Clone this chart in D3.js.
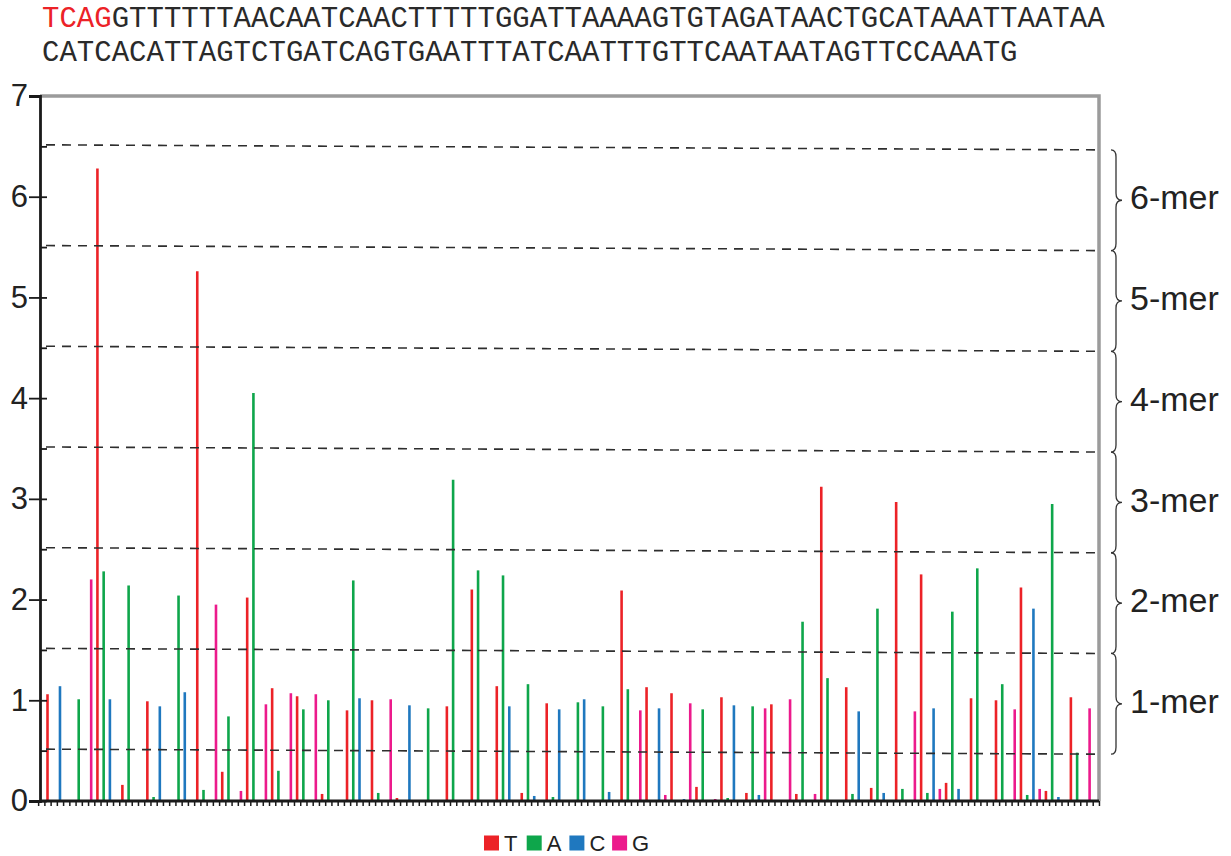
<!DOCTYPE html>
<html>
<head>
<meta charset="utf-8">
<script src="https://cdn.jsdelivr.net/npm/d3@7"></script>
<style>
  html, body { margin: 0; padding: 0; background: #fff; }
  svg { display: block; }
</style>
</head>
<body>
<svg id="canvas"></svg>
<script>
// flowgram: one value per nucleotide flow, flows cycle T A C G
const flowOrder = ['T', 'A', 'C', 'G'];
const flowValues = [
  1.06, 0, 1.14, 0, 0, 1.01, 0, 2.20, 6.28, 2.28,
  1.01, 0, 0.16, 2.14, 0, 0, 0.99, 0.04, 0.94, 0,
  0, 2.04, 1.08, 0, 5.26, 0.11, 0, 1.95, 0.29, 0.84,
  0, 0.10, 2.02, 4.05, 0, 0.96, 1.12, 0.30, 0, 1.07,
  1.04, 0.91, 0, 1.06, 0.07, 1.00, 0, 0, 0.90, 2.19,
  1.02, 0, 1.00, 0.08, 0.01, 1.01, 0.03, 0, 0.95, 0.01,
  0, 0.92, 0, 0, 0.94, 3.19, 0, 0, 2.10, 2.29,
  0, 0, 1.14, 2.24, 0.94, 0, 0.08, 1.16, 0.05, 0,
  0.97, 0.04, 0.91, 0, 0, 0.98, 1.01, 0, 0, 0.94,
  0.09, 0, 2.09, 1.11, 0, 0.90, 1.13, 0.01, 0.92, 0.06,
  1.07, 0, 0.02, 0.97, 0.14, 0.91, 0, 0.02, 1.03, 0.03,
  0.95, 0, 0.08, 0.94, 0.06, 0.92, 0.96, 0.01, 0, 1.01,
  0.07, 1.78, 0, 0.07, 3.12, 1.22, 0, 0, 1.13, 0.07,
  0.89, 0, 0.13, 1.91, 0.08, 0, 2.97, 0.12, 0, 0.89,
  2.25, 0.08, 0.92, 0.12, 0.18, 1.88, 0.12, 0, 1.02, 2.31,
  0, 0, 1.00, 1.16, 0, 0.91, 2.12, 0.06, 1.91, 0.12,
  0.10, 2.95, 0.04, 0, 1.03, 0.48, 0, 0.92
];
const baseColors = { T: '#ec2227', A: '#0ea64b', C: '#1f78bf', G: '#ec1a8c' };
const legendBases = ['T', 'A', 'C', 'G'];

const yTicks = [0, 1, 2, 3, 4, 5, 6, 7];
const halfTicks = [0.5, 1.5, 2.5, 3.5, 4.5, 5.5, 6.5];
const merLabels = ['6-mer', '5-mer', '4-mer', '3-mer', '2-mer', '1-mer'];

const keySeq = 'TCAG';
const readLine1 = 'GTTTTTTAACAATCAACTTTTTGGATTAAAAGTGTAGATAACTGCATAAATTAATAA';
const readLine2 = 'CATCACATTAGTCTGATCAGTGAATTTATCAATTTGTTCAATAATAGTTCCAAATG';

const width = 1231;
const height = 856;
const plotLeft = 40, plotRight = 1099, plotTop = 96, plotBottom = 801;

let canvas = d3.select('#canvas').attr('width', width).attr('height', height);

const xScale = d3.scaleLinear().domain([0, flowValues.length - 1]).range([47.5, 1089.6]);
const yScale = d3.scaleLinear().domain([0, 7]).range([plotBottom, plotTop]);

const sans = 'Liberation Sans, Arial, Helvetica, sans-serif';

// sequence text
const charW = 17.42;
const seq1 = canvas.append('text')
  .attr('x', 42).attr('y', 27)
  .attr('font-family', 'Liberation Mono, Courier New, monospace')
  .attr('font-size', 29)
  .attr('fill', '#2a2a2a')
  .attr('textLength', (keySeq.length + readLine1.length) * charW)
  .attr('lengthAdjust', 'spacing');
seq1.append('tspan').attr('fill', '#ec2227').text(keySeq);
seq1.append('tspan').text(readLine1);

canvas.append('text')
  .attr('x', 42).attr('y', 61)
  .attr('font-family', 'Liberation Mono, Courier New, monospace')
  .attr('font-size', 29)
  .attr('fill', '#2a2a2a')
  .attr('textLength', readLine2.length * charW)
  .attr('lengthAdjust', 'spacing')
  .text(readLine2);

// frame: gray top + right
canvas.append('path')
  .attr('d', `M${plotLeft},${plotTop} H${plotRight} V${plotBottom}`)
  .attr('fill', 'none')
  .attr('stroke', '#9b9b9b')
  .attr('stroke-width', 3.5);

// bars
canvas.append('g')
  .selectAll('line')
  .data(flowValues.map((v, i) => ({ i: i, v: v, base: flowOrder[i % 4] })).filter(d => d.v > 0))
  .enter()
  .append('line')
  .attr('x1', d => xScale(d.i))
  .attr('x2', d => xScale(d.i))
  .attr('y1', yScale(0))
  .attr('y2', d => yScale(d.v))
  .attr('stroke', d => baseColors[d.base])
  .attr('stroke-width', 2.6);

// dashed k-mer boundaries (slightly tilted as in the print)
canvas.append('g')
  .selectAll('line')
  .data(halfTicks)
  .enter()
  .append('line')
  .attr('x1', plotLeft + 6)
  .attr('x2', plotRight)
  .attr('y1', v => yScale(v + 0.015))
  .attr('y2', v => yScale(v - 0.035))
  .attr('stroke', '#2e2e2e')
  .attr('stroke-width', 1.6)
  .attr('stroke-dasharray', '9,7');

// y axis
const yAxis = d3.axisLeft(yScale).tickValues(yTicks).tickSize(11).tickPadding(1).tickFormat(d3.format('d'));
const gy = canvas.append('g')
  .attr('transform', 'translate(' + plotLeft + ',0)')
  .call(yAxis);
gy.select('.domain').attr('stroke', '#1a1a1a').attr('stroke-width', 2.8);
gy.selectAll('.tick line').attr('stroke', '#1a1a1a').attr('stroke-width', 1.8);
gy.selectAll('.tick text').attr('font-family', sans).attr('font-size', 31).attr('fill', '#222');

const yInner = d3.axisRight(yScale).tickValues(yTicks.filter(t => t < 7).concat(halfTicks)).tickSize(7).tickFormat('');
const gyi = canvas.append('g')
  .attr('transform', 'translate(' + plotLeft + ',0)')
  .call(yInner);
gyi.select('.domain').remove();
gyi.selectAll('.tick line').attr('stroke', '#1a1a1a').attr('stroke-width', 1.8);

// x axis: one tick per flow boundary
const xAxis = d3.axisBottom(xScale)
  .tickValues(d3.range(-1.5, flowValues.length + 0.6, 1))
  .tickSize(5)
  .tickFormat('');
const gx = canvas.append('g')
  .attr('transform', 'translate(0,' + plotBottom + ')')
  .call(xAxis);
gx.select('.domain').attr('d', `M${plotLeft},0H${plotRight}`).attr('stroke', '#1a1a1a').attr('stroke-width', 2.8);
gx.selectAll('.tick line').attr('stroke', '#1a1a1a').attr('stroke-width', 1.5);

// braces + k-mer labels
const bx0 = 1111, bxm = 1116, bx1 = 1122;
const brace = (y1, y2) => {
  const ym = (y1 + y2) / 2, r = 7;
  return `M${bx0},${y1} Q${bxm},${y1} ${bxm},${y1 + r} L${bxm},${ym - r} Q${bxm},${ym} ${bx1},${ym}` +
         ` Q${bxm},${ym} ${bxm},${ym + r} L${bxm},${y2 - r} Q${bxm},${y2} ${bx0},${y2}`;
};
const mers = canvas.append('g')
  .selectAll('g')
  .data(merLabels)
  .enter()
  .append('g');
mers.append('path')
  .attr('d', (d, i) => brace(yScale(halfTicks[6 - i] - 0.035), yScale(halfTicks[5 - i] - 0.035)))
  .attr('fill', 'none')
  .attr('stroke', '#333')
  .attr('stroke-width', 1.3);
mers.append('text')
  .attr('x', 1130)
  .attr('y', (d, i) => (yScale(halfTicks[6 - i] - 0.035) + yScale(halfTicks[5 - i] - 0.035)) / 2 - 3)
  .attr('dy', '0.36em')
  .attr('font-family', sans)
  .attr('font-size', 34)
  .attr('fill', '#222')
  .text(d => d);

// legend
const legend = canvas.append('g')
  .selectAll('g')
  .data(legendBases)
  .enter()
  .append('g')
  .attr('transform', (d, i) => 'translate(' + (484 + i * 42.7) + ',835.5)');
legend.append('rect')
  .attr('width', 15).attr('height', 15)
  .attr('fill', d => baseColors[d]);
legend.append('text')
  .attr('x', 20).attr('y', 15)
  .attr('font-family', sans)
  .attr('font-size', 22)
  .attr('fill', '#222')
  .text(d => d);
</script>
</body>
</html>
